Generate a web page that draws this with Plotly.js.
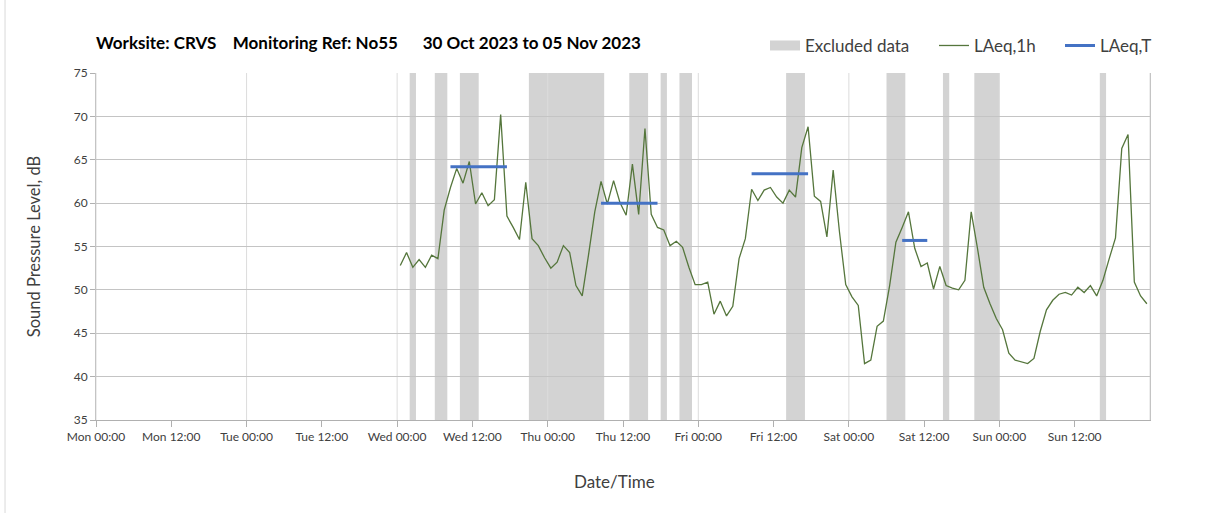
<!DOCTYPE html>
<html>
<head>
<meta charset="utf-8">
<script src="https://cdn.plot.ly/plotly-3.0.1.min.js"></script>
<style>
  html, body { margin: 0; padding: 0; background: #ffffff; }
  #chart { width: 1208px; height: 513px; }
</style>
</head>
<body>
<div id="chart"></div>
<script>
// ---------------- DATA ----------------
// Hourly LAeq,1h values, first value for hour starting Wed 01 Nov 2023 00:00 (plotted at mid-hour)
const firstHour = '2023-11-01 00:00';
const laeq1h = [
  52.8, 54.3, 52.6, 53.5, 52.6, 54.0, 53.6, 59.2, 61.8, 64.0, 62.3, 64.8,
  59.9, 61.2, 59.7, 60.4, 70.2, 58.5, 57.2, 55.8, 62.4, 55.9, 55.1, 53.7,
  52.5, 53.2, 55.1, 54.3, 50.5, 49.3, 54.0, 59.0, 62.5, 59.9, 62.6, 60.1,
  58.6, 64.5, 58.7, 68.6, 58.7, 57.2, 56.9, 55.1, 55.6, 54.9, 52.6, 50.6,
  50.6, 50.9, 47.2, 48.7, 47.0, 48.1, 53.6, 55.9, 61.6, 60.3, 61.5, 61.8,
  60.7, 60.0, 61.5, 60.7, 66.4, 68.8, 60.8, 60.2, 56.1, 63.8, 56.7, 50.6,
  49.2, 48.2, 41.5, 41.9, 45.8, 46.4, 50.5, 55.5, 57.2, 59.0, 54.8, 52.7,
  53.1, 50.1, 52.7, 50.5, 50.2, 50.0, 51.1, 59.0, 54.8, 50.3, 48.4, 46.7,
  45.4, 42.7, 41.9, 41.7, 41.5, 42.1, 45.2, 47.7, 48.8, 49.5, 49.7, 49.4,
  50.3, 49.7, 50.5, 49.3, 51.1, 53.6, 56.0, 66.3, 67.9, 50.9, 49.3, 48.4
];

// LAeq,T periods (drawn between first and last hourly mid-points of each period)
const periodStart = ['2023-11-01 08:30', '2023-11-02 08:30', '2023-11-03 08:30', '2023-11-04 08:30'];
const periodEnd   = ['2023-11-01 17:30', '2023-11-02 17:30', '2023-11-03 17:30', '2023-11-04 12:30'];
const laeqT       = [64.2, 60.0, 63.4, 55.7];

// Excluded data periods
const exclStart = ['2023-11-01 02:00', '2023-11-01 06:00', '2023-11-01 10:00', '2023-11-01 21:00',
                   '2023-11-02 13:00', '2023-11-02 18:00', '2023-11-02 21:00', '2023-11-03 14:00',
                   '2023-11-04 06:00', '2023-11-04 15:00', '2023-11-04 20:00', '2023-11-05 16:00'];
const exclEnd   = ['2023-11-01 03:00', '2023-11-01 08:00', '2023-11-01 13:00', '2023-11-02 09:00',
                   '2023-11-02 16:00', '2023-11-02 19:00', '2023-11-02 23:00', '2023-11-03 17:00',
                   '2023-11-04 09:00', '2023-11-04 16:00', '2023-11-05 00:00', '2023-11-05 17:00'];

// Axis ticks
const tickVals = ['2023-10-30 00:00', '2023-10-30 12:00', '2023-10-31 00:00', '2023-10-31 12:00',
                  '2023-11-01 00:00', '2023-11-01 12:00', '2023-11-02 00:00', '2023-11-02 12:00',
                  '2023-11-03 00:00', '2023-11-03 12:00', '2023-11-04 00:00', '2023-11-04 12:00',
                  '2023-11-05 00:00', '2023-11-05 12:00'];
const tickText = ['Mon 00:00', 'Mon 12:00', 'Tue 00:00', 'Tue 12:00', 'Wed 00:00', 'Wed 12:00',
                  'Thu 00:00', 'Thu 12:00', 'Fri 00:00', 'Fri 12:00', 'Sat 00:00', 'Sat 12:00',
                  'Sun 00:00', 'Sun 12:00'];
const dayLines = ['2023-10-30 00:00', '2023-10-31 00:00', '2023-11-01 00:00', '2023-11-02 00:00',
                  '2023-11-03 00:00', '2023-11-04 00:00', '2023-11-05 00:00', '2023-11-06 00:00'];
const xRange = ['2023-10-30 00:00', '2023-11-06 00:00'];

// ---------------- BUILD ----------------
function fmt(ms) {
  const d = new Date(ms);
  const p = n => String(n).padStart(2, '0');
  return d.getUTCFullYear() + '-' + p(d.getUTCMonth() + 1) + '-' + p(d.getUTCDate()) + ' ' +
         p(d.getUTCHours()) + ':' + p(d.getUTCMinutes());
}
const t0 = Date.parse(firstHour.replace(' ', 'T') + ':00Z');
const hourX = laeq1h.map((_, i) => fmt(t0 + i * 3600000 + 1800000));

const tX = [], tY = [];
laeqT.forEach((v, i) => { tX.push(periodStart[i], periodEnd[i], periodEnd[i]); tY.push(v, v, null); });

const FONT = 'Lato, "Open Sans", sans-serif';
const gray = '#d3d3d3';

const shapes = [];
exclStart.forEach((s, i) => {
  shapes.push({type: 'rect', xref: 'x', yref: 'paper', x0: s, x1: exclEnd[i], y0: 0, y1: 1,
               fillcolor: gray, line: {width: 0}, layer: 'below'});
});
dayLines.forEach(d => {
  shapes.push({type: 'line', xref: 'x', yref: 'paper', x0: d, x1: d, y0: 0, y1: 1,
               line: {color: '#dcdcdc', width: 1}, layer: 'below'});
});
// thin chart-area border at the far left
shapes.push({type: 'line', xref: 'paper', yref: 'paper', x0: -0.0863, x1: -0.0863, y0: -0.27, y1: 1.22,
             line: {color: '#d9d9d9', width: 1}});

const traces = [
  {x: [null], y: [null], type: 'scatter', mode: 'lines', name: 'Excluded data',
   line: {color: gray, width: 11}, legend: 'legend', hoverinfo: 'skip'},
  {x: hourX, y: laeq1h, type: 'scatter', mode: 'lines', name: 'LAeq,1h',
   line: {color: '#55763c', width: 1.3}, legend: 'legend2', hoverinfo: 'skip'},
  {x: tX, y: tY, type: 'scatter', mode: 'lines', name: 'LAeq,T',
   line: {color: '#4472c4', width: 3}, legend: 'legend3', hoverinfo: 'skip', connectgaps: false}
];

const legendBase = {orientation: 'h', yref: 'paper', y: 1.078, yanchor: 'middle', xanchor: 'left',
                    bgcolor: 'rgba(0,0,0,0)', borderwidth: 0,
                    font: {family: FONT, size: 17, color: '#404040'}};

const layout = {
  width: 1208, height: 513,
  margin: {l: 96, r: 58, t: 73, b: 93, pad: 0},
  paper_bgcolor: '#ffffff', plot_bgcolor: '#ffffff',
  font: {family: FONT, color: '#404040'},
  title: {
    text: '<b>Worksite: CRVS\u00a0\u00a0\u00a0\u00a0Monitoring Ref: No55\u00a0\u00a0\u00a0\u00a0\u00a0\u00a030 Oct 2023 to 05 Nov 2023</b>',
    x: 0, xref: 'paper', xanchor: 'left', y: 1 - 43 / 513, yref: 'container', yanchor: 'middle',
    font: {family: FONT, size: 17, color: '#000000'}
  },
  xaxis: {
    type: 'date', range: xRange, tickmode: 'array', tickvals: tickVals, ticktext: tickText,
    showgrid: false, zeroline: false, showline: true, linecolor: '#b0b0b0', linewidth: 1,
    ticks: 'outside', ticklen: 6, tickcolor: '#b0b0b0',
    tickfont: {family: FONT, size: 12, color: '#404040'},
    automargin: false
  },
  yaxis: {
    range: [35, 75], tickmode: 'linear', tick0: 35, dtick: 5,
    showgrid: true, gridcolor: '#c4c4c4', gridwidth: 1, zeroline: false,
    showline: true, mirror: true, linecolor: '#c4c4c4', linewidth: 1,
    ticks: 'outside', ticklen: 5, tickcolor: '#b0b0b0',
    tickfont: {family: FONT, size: 12, color: '#404040'},
    title: {text: 'Sound Pressure Level, dB', font: {family: FONT, size: 16.5, color: '#404040'}, standoff: 28},
    automargin: false
  },
  annotations: [
    {text: 'Date/Time', xref: 'paper', yref: 'paper', x: (614.5 - 96) / 1054, y: (420 - 481) / 347,
     xanchor: 'center', yanchor: 'middle', showarrow: false,
     font: {family: FONT, size: 17, color: '#404040'}}
  ],
  shapes: shapes,
  showlegend: true,
  legend:  Object.assign({}, legendBase, {x: (765 - 96) / 1054}),
  legend2: Object.assign({}, legendBase, {x: (934 - 96) / 1054}),
  legend3: Object.assign({}, legendBase, {x: (1060 - 96) / 1054})
};

Plotly.newPlot('chart', traces, layout, {staticPlot: true, displayModeBar: false});
</script>
</body>
</html>
